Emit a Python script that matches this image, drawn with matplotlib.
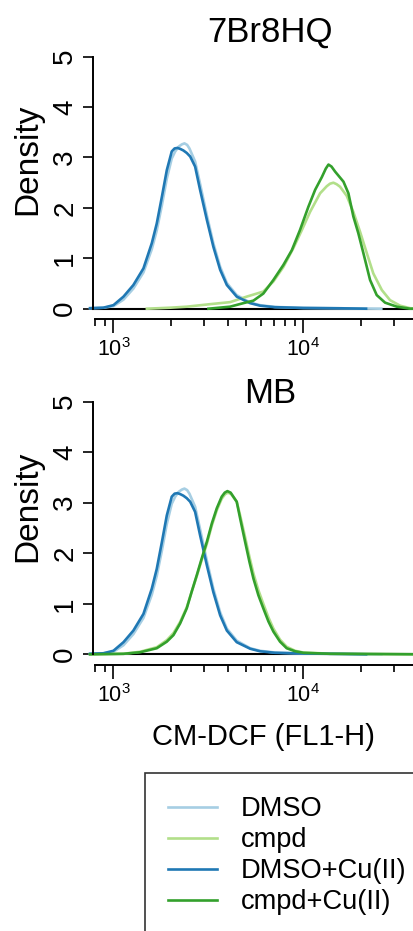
import numpy as np
from matplotlib import pyplot as plt
from matplotlib import ticker

plt.rcParams["font.family"] = ["Liberation Sans", "DejaVu Sans"]

# log10 of CM-DCF (FL1-H) intensity and density
# controls are shared by both panels
dmso_log = [2.877, 2.947, 3.0, 3.053, 3.105, 3.158, 3.202, 3.228, 3.255, 3.281, 3.307,
            3.325, 3.345, 3.36, 3.374, 3.388, 3.40, 3.43, 3.456, 3.492, 3.526, 3.562,
            3.597, 3.649, 3.72, 3.772, 3.85, 4.0, 4.2, 4.41]
dmso_den = [0.01, 0.02, 0.05, 0.18, 0.40, 0.72, 1.18, 1.55, 2.05, 2.58, 2.98,
            3.12, 3.22, 3.26, 3.28, 3.25, 3.18, 2.92, 2.48, 1.85, 1.30, 0.83,
            0.51, 0.27, 0.12, 0.07, 0.035, 0.015, 0.008, 0.0]

dmso_cu_log = [2.877, 2.947, 3.0, 3.053, 3.105, 3.158, 3.202, 3.228, 3.255, 3.281, 3.307,
               3.322, 3.337, 3.352, 3.368, 3.386, 3.404, 3.43, 3.456, 3.492, 3.526, 3.562,
               3.597, 3.649, 3.72, 3.772, 3.85, 4.0, 4.2, 4.33]
dmso_cu_den = [0.01, 0.02, 0.07, 0.24, 0.47, 0.80, 1.30, 1.69, 2.22, 2.75, 3.12,
               3.18, 3.19, 3.17, 3.14, 3.09, 3.02, 2.82, 2.36, 1.76, 1.23, 0.77,
               0.47, 0.24, 0.11, 0.06, 0.03, 0.015, 0.008, 0.0]

# 7Br8HQ
br_cmpd_log = [3.176, 3.30, 3.386, 3.509, 3.614, 3.702, 3.789, 3.842, 3.895, 3.947, 3.992,
               4.035, 4.088, 4.123, 4.14, 4.158, 4.175, 4.193, 4.228, 4.263, 4.298, 4.334,
               4.368, 4.413, 4.456, 4.509, 4.562, 4.60]
br_cmpd_den = [0.0, 0.02, 0.04, 0.09, 0.13, 0.24, 0.34, 0.54, 0.83, 1.20, 1.56,
               1.92, 2.29, 2.43, 2.48, 2.50, 2.47, 2.42, 2.24, 1.92, 1.53, 1.10,
               0.70, 0.37, 0.17, 0.06, 0.01, 0.0]

br_cmpd_cu_log = [3.50, 3.614, 3.684, 3.737, 3.789, 3.842, 3.895, 3.939, 3.982, 4.026,
                  4.062, 4.097, 4.118, 4.132, 4.148, 4.167, 4.211, 4.237, 4.263, 4.289,
                  4.316, 4.351, 4.386, 4.43, 4.492, 4.562, 4.60]
br_cmpd_cu_den = [0.0, 0.04, 0.11, 0.16, 0.30, 0.57, 0.87, 1.16, 1.56, 2.02,
                  2.36, 2.61, 2.78, 2.86, 2.82, 2.72, 2.52, 2.29, 1.83, 1.50,
                  1.10, 0.57, 0.27, 0.12, 0.04, 0.0, 0.0]

# MB
mb_cmpd_log = [2.877, 3.053, 3.14, 3.228, 3.281, 3.316, 3.351, 3.386, 3.412, 3.439, 3.465,
               3.492, 3.518, 3.544, 3.570, 3.588, 3.603, 3.62, 3.649, 3.667, 3.693, 3.716,
               3.737, 3.763, 3.789, 3.816, 3.842, 3.877, 3.912, 3.956, 4.0, 4.14, 4.4, 4.6]
mb_cmpd_den = [0.0, 0.01, 0.05, 0.14, 0.28, 0.42, 0.64, 0.93, 1.24, 1.55, 1.87,
               2.19, 2.55, 2.85, 3.08, 3.17, 3.20, 3.17, 3.02, 2.75, 2.32, 1.93,
               1.60, 1.27, 1.00, 0.73, 0.51, 0.29, 0.15, 0.07, 0.035, 0.012, 0.005, 0.0]

mb_cmpd_cu_log = [2.877, 3.053, 3.14, 3.228, 3.281, 3.316, 3.351, 3.386, 3.412, 3.439, 3.465,
                  3.492, 3.518, 3.544, 3.570, 3.586, 3.600, 3.617, 3.649, 3.667, 3.693, 3.716,
                  3.737, 3.763, 3.789, 3.816, 3.842, 3.877, 3.912, 3.956, 4.0, 4.14, 4.4, 4.6]
mb_cmpd_cu_den = [0.0, 0.01, 0.04, 0.12, 0.25, 0.38, 0.61, 0.91, 1.24, 1.57, 1.90,
                  2.23, 2.59, 2.89, 3.12, 3.20, 3.23, 3.20, 3.02, 2.69, 2.23, 1.83,
                  1.50, 1.17, 0.91, 0.65, 0.45, 0.25, 0.12, 0.06, 0.03, 0.01, 0.005, 0.0]

labels = ["DMSO", "cmpd", "DMSO+Cu(II)", "cmpd+Cu(II)"]
colors = ["#a6cee3", "#b2df8a", "#1f78b4", "#33a02c"]

panels = [
    ("7Br8HQ", br_cmpd_log, br_cmpd_den, br_cmpd_cu_log, br_cmpd_cu_den),
    ("MB", mb_cmpd_log, mb_cmpd_den, mb_cmpd_cu_log, mb_cmpd_cu_den),
]

W, H = 413, 931
fig = plt.figure(figsize=(W / 100, H / 100), dpi=100)

# pixel layout of each panel: y of density 0, y of density 5, title baseline, ylabel centre
layout = [(308.7, 56.7, 41.7, 159), (654.3, 401.7, 403.3, 506)]
ax_left, ax_right = 93.3, 447

for (name, c_log, c_den, cc_log, cc_den), (y0, y5, t_base, yl_c) in zip(panels, layout):
    ax = fig.add_axes([ax_left / W, 1 - y0 / H, (ax_right - ax_left) / W, (y0 - y5) / H])
    ax.axhline(0, color="black", lw=1.5, zorder=1, clip_on=False)
    series = [
        (dmso_log, dmso_den),
        (c_log, c_den),
        (dmso_cu_log, dmso_cu_den),
        (cc_log, cc_den),
    ]
    for (lx, dy), col, lab in zip(series, colors, labels):
        ax.plot(10 ** np.array(lx), dy, color=col, lw=1.9, label=lab, zorder=2,
                clip_on=False, solid_joinstyle="round")

    ax.set_xscale("log")
    ax.set_xlim(10 ** 2.894, 10 ** 4.756)
    ax.set_ylim(0, 5)
    ax.set_yticks([0, 1, 2, 3, 4, 5])

    for side in ["top", "right"]:
        ax.spines[side].set_visible(False)
    ax.spines["left"].set_bounds(0, 5)
    ax.spines["left"].set_linewidth(1.4)
    ax.spines["bottom"].set_position(("outward", 7.4))
    ax.spines["bottom"].set_bounds(800, 1e5)
    ax.spines["bottom"].set_linewidth(1.4)

    ax.xaxis.set_major_locator(ticker.LogLocator(base=10, numticks=10))
    ax.xaxis.set_minor_locator(ticker.LogLocator(base=10, subs=np.arange(2, 10), numticks=10))
    ax.xaxis.set_minor_formatter(ticker.NullFormatter())
    ax.tick_params(axis="x", which="major", length=10, width=1.2, pad=4, labelsize=15.5)
    ax.tick_params(axis="x", which="minor", length=5, width=1.2)
    ax.tick_params(axis="y", length=7.2, width=1.2, pad=3.6, labelsize=20, labelrotation=90)
    for lbl in ax.get_yticklabels():
        lbl.set_verticalalignment("center")

    fig.text(270 / W, 1 - t_base / H, name, ha="center", va="baseline", fontsize=25)
    fig.text(36.7 / W, 1 - yl_c / H, "Density", rotation=90, rotation_mode="anchor",
             ha="center", va="baseline", fontsize=24)

fig.text(263.3 / W, 1 - 745 / H, "CM-DCF (FL1-H)", ha="center", va="baseline", fontsize=21)

handles = ax.get_lines()[1:]
leg = fig.legend(handles, labels, loc="upper left", bbox_to_anchor=(145.3 / W, 1 - 773.3 / H),
                 fontsize=19.6, frameon=True, fancybox=False, edgecolor="black",
                 handlelength=1.8, handletextpad=0.85, labelspacing=0.18,
                 borderpad=0.85, borderaxespad=0)
leg.get_frame().set_linewidth(1.2)

fig.savefig("out.png", dpi=100)
